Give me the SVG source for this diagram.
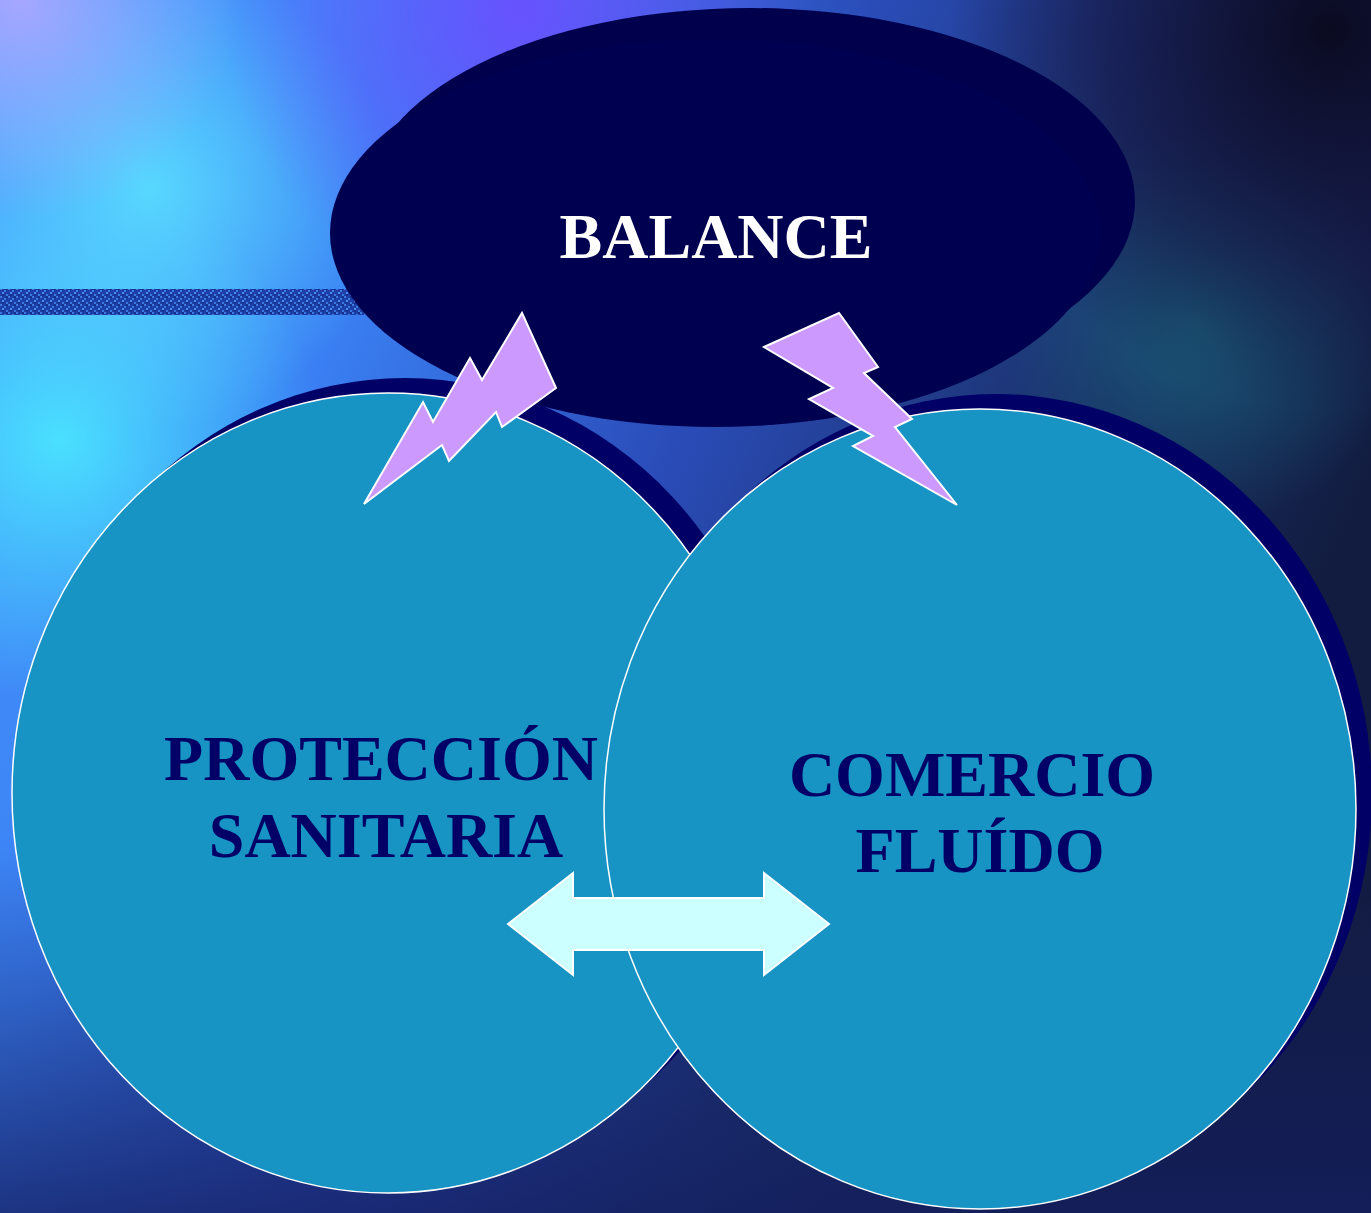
<svg xmlns="http://www.w3.org/2000/svg" width="1371" height="1213" viewBox="0 0 1371 1213">
<defs>
  <linearGradient id="bg" x1="0" y1="0" x2="1" y2="0.4">
    <stop offset="0" stop-color="#4a9cff"/>
    <stop offset="0.3" stop-color="#3a80f4"/>
    <stop offset="0.55" stop-color="#2a4cb8"/>
    <stop offset="0.8" stop-color="#1a3068"/>
    <stop offset="1" stop-color="#121c40"/>
  </linearGradient>
  <linearGradient id="bottom" x1="0" y1="0" x2="0" y2="1">
    <stop offset="0.7" stop-color="#141e60" stop-opacity="0"/>
    <stop offset="1" stop-color="#141e60" stop-opacity="0.75"/>
  </linearGradient>
  <radialGradient id="g1" cx="60" cy="440" r="260" gradientUnits="userSpaceOnUse">
    <stop offset="0" stop-color="#4ae4ff" stop-opacity="0.95"/>
    <stop offset="1" stop-color="#4ae4ff" stop-opacity="0"/>
  </radialGradient>
  <radialGradient id="g2" cx="150" cy="190" r="240" gradientUnits="userSpaceOnUse">
    <stop offset="0" stop-color="#5ae0ff" stop-opacity="0.9"/>
    <stop offset="1" stop-color="#5ae0ff" stop-opacity="0"/>
  </radialGradient>
  <radialGradient id="g3" cx="520" cy="10" r="300" gradientUnits="userSpaceOnUse">
    <stop offset="0" stop-color="#6a50ff" stop-opacity="0.95"/>
    <stop offset="1" stop-color="#6a50ff" stop-opacity="0"/>
  </radialGradient>
  <radialGradient id="g4" cx="1330" cy="30" r="380" gradientUnits="userSpaceOnUse">
    <stop offset="0" stop-color="#0a0a20" stop-opacity="1"/>
    <stop offset="0.6" stop-color="#141440" stop-opacity="0.6"/>
    <stop offset="1" stop-color="#141440" stop-opacity="0"/>
  </radialGradient>
  <radialGradient id="g5" cx="1200" cy="330" r="200" gradientUnits="userSpaceOnUse">
    <stop offset="0" stop-color="#1a6a80" stop-opacity="0.7"/>
    <stop offset="1" stop-color="#1a6a80" stop-opacity="0"/>
  </radialGradient>
  <radialGradient id="g6" cx="20" cy="0" r="220" gradientUnits="userSpaceOnUse">
    <stop offset="0" stop-color="#b0a8ff" stop-opacity="0.9"/>
    <stop offset="1" stop-color="#b0a8ff" stop-opacity="0"/>
  </radialGradient>
  <pattern id="tex" width="8" height="8" patternUnits="userSpaceOnUse">
    <rect width="8" height="8" fill="#1e3fa8"/>
    <rect x="0" y="0" width="2" height="2" fill="#3a7ae0"/>
    <rect x="4" y="2" width="2" height="2" fill="#3a7ae0"/>
    <rect x="2" y="4" width="2" height="2" fill="#4a8cf0"/>
    <rect x="6" y="6" width="2" height="2" fill="#3a7ae0"/>
    <rect x="6" y="0" width="2" height="2" fill="#14308a"/>
    <rect x="2" y="6" width="2" height="2" fill="#14308a"/>
  </pattern>
  <style>
    .shadow { fill: #000066; }
    .circle { fill: #1793c4; stroke: #ffffff; stroke-width: 1.5; }
    .bolt { fill: #cc99ff; stroke: #ffffff; stroke-width: 2; stroke-linejoin: miter; }
    .arrow { fill: #ccffff; stroke: #ffffff; stroke-width: 2; }
    .lbl { font-family: "Liberation Serif", "Times New Roman", serif; font-weight: bold; text-anchor: middle; }
    .dark { fill: #000066; font-size: 64px; }
  </style>
</defs>

<g id="background">
  <rect width="1371" height="1213" fill="url(#bg)"/>
  <rect width="1371" height="1213" fill="url(#g1)"/>
  <rect width="1371" height="1213" fill="url(#g2)"/>
  <rect width="1371" height="1213" fill="url(#g3)"/>
  <rect width="1371" height="1213" fill="url(#g5)"/>
  <rect width="1371" height="1213" fill="url(#g4)"/>
  <rect width="1371" height="1213" fill="url(#g6)"/>
  <rect width="1371" height="1213" fill="url(#bottom)"/>
  <rect x="0" y="289" width="380" height="26" fill="url(#tex)"/>
</g>

<g id="balance">
  <ellipse cx="750" cy="201" rx="385" ry="193" fill="#00004c"/>
  <ellipse cx="715" cy="233" rx="385" ry="194" fill="#000050"/>
  <text class="lbl" x="716" y="258" font-size="64" fill="#ffffff">BALANCE</text>
</g>

<g id="proteccion">
  <ellipse class="shadow" cx="405" cy="778" rx="376" ry="400"/>
  <ellipse class="circle" cx="388" cy="793" rx="376" ry="400"/>
  <text class="lbl dark" x="381" y="780">PROTECCIÓN</text>
  <text class="lbl dark" x="386" y="857">SANITARIA</text>
</g>

<g id="comercio">
  <ellipse class="shadow" cx="996" cy="794" rx="376" ry="400"/>
  <ellipse class="circle" cx="980" cy="809" rx="376" ry="400"/>
  <text class="lbl dark" x="972" y="796">COMERCIO</text>
  <text class="lbl dark" x="980" y="872">FLUÍDO</text>
</g>

<g id="connectors">
  <polygon class="bolt" points="364,504 423,402 433,422 470,358 482,380 522,313 556,388 502,427 496,412 449,461 442,445"/>
  <polygon class="bolt" points="764,347 839,313 878,367 864,373 912,419 895,427 957,505 853,446 873,436 809,399 833,388"/>
  <polygon class="arrow" points="508,924 573,873 573,898 764,898 764,873 829,924 764,975 764,950 573,950 573,975"/>
</g>
</svg>
